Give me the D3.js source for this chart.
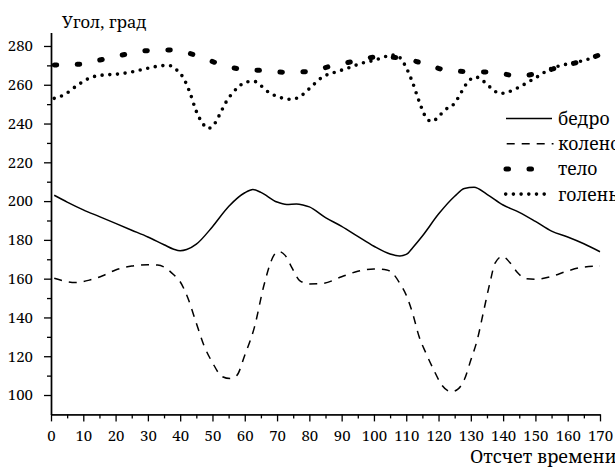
<!DOCTYPE html>
<html>
<head>
<meta charset="utf-8">
<script src="https://cdn.jsdelivr.net/npm/d3@7"></script>
<style>
  body { margin: 0; background: #fff; }
  text { font-family: "Noto Serif", "DejaVu Serif", serif; fill: #000; }
</style>
</head>
<body>
<svg id="chart" width="615" height="468"></svg>
<script>
// Joint angles over time (degrees)
const hipT  = [1,5,10,15,20,25,30,35,38,40,42,45,50,55,60,62.5,65,70,73,76,78,80,85,90,95,100,105,108,110,112,115,120,125,128,131,135,140,145,150,155,160,165,170];
const hipV  = [203,199.5,195.5,192,188.5,185,181.5,177.5,175.2,174.4,175,177.8,186.8,197.2,204.3,206,204.5,199.5,198.3,198.5,198,197,191.5,187,181.8,176.7,172.7,171.7,172.5,176,182,193.3,202.5,206.5,207.1,203.5,198,194.2,189.5,184.5,181.5,178,173.9];

const kneeT = [1,4,7.5,12,16,20,25,30,33,35,38,40,42.5,45,47.5,50,53,55.5,57.5,60,63,66,69,70.5,72.5,74.5,77,80,84,90,95,100,104,106,108,110,112,114,116,118.5,121,124,126,128,130,132,134,136,137.5,139.8,142,144.5,147,150,155,160,165,170];
const kneeV = [160.2,158.8,158,159.3,161.5,164.5,166.5,167.2,167,166,162,158.4,149.5,137,125,116.7,109.5,108.5,110,120.5,135,157,172,174,172,166,159,157.3,157.5,161,163.8,165,164.5,162.4,157.6,151.5,142,130,122,113,105.2,101.7,103,108,118,128.5,143.5,158.5,168,171.5,168.5,163,160,159.7,161.2,164,166,166.5];

const bodyT = [1,9,16,23,30,37,44.5,51.5,59,66,73,80,87.5,94.5,101.5,108.5,116,123,130.5,137.5,144.5,151,158,164,170];
const bodyV = [270.2,270.6,273.1,275.7,277.6,277.9,275.4,271.1,268,267.3,266.4,266.9,270,272.3,274.5,273.7,270.7,267.3,266.7,266.4,264.5,266,269.5,272,275.5];

const shinT = [1,4,8,12,16,20,25,30,35,37,39,41,43,45,47,48.5,50,52,54,56,58,60.5,63,65,67.5,70,74.5,77,80,84,88,92,96,100,103,105.5,108,110,112,114,116,118,120,122,125,127,129,131.5,134,136.5,139,141,144,148,151,155,158,162,166,170];
const shinV = [253,254.8,259.5,263.5,265,265.4,266.6,268.5,269.9,269.8,267.5,263.5,256,246.3,240,237.5,238.5,243.9,250.5,255.3,258.8,261.5,261.7,259.5,256,254,252.5,253.8,258,263.9,266.5,268.6,271,272.6,274.2,275.4,274,268.8,261,251.4,243.5,241,243.6,247,250.5,256,261.3,264,261.7,258,255.5,256,258,261.6,264.5,268.5,270,271.4,273,276];

const xMajor = d3.range(0, 171, 10);
const xMinor = d3.range(5, 170, 10);
const yMajor = d3.range(100, 281, 20);
const yMinor = d3.range(110, 281, 20);

const series = [
  { name: "бедро",  t: hipT,  v: hipV,  width: 1.5, dash: null,        cap: "butt"  },
  { name: "колено", t: kneeT, v: kneeV, width: 1.5, dash: "8,7",       cap: "butt"  },
  { name: "тело",   t: bodyT, v: bodyV, width: 5,   dash: "2.5,20.5",  cap: "round" },
  { name: "голень", t: shinT, v: shinV, width: 3.6, dash: "0,7.7",     cap: "round" }
];

const FONT = '"Noto Serif", "DejaVu Serif", serif';
const svg = d3.select("#chart");
const x = d3.scaleLinear().domain([0, 170]).range([51, 600]);
const y = d3.scaleLinear().domain([90, 287]).range([414.4, 32.4]);

// Axes
function styleAxis(g) {
  g.attr("font-family", FONT);
  g.selectAll("path.domain").attr("stroke", "#000").attr("stroke-width", 1.4);
  g.selectAll(".tick line").attr("stroke", "#000").attr("stroke-width", 1.3);
  g.selectAll(".tick text").style("font-family", FONT).style("font-size", "15px").attr("fill", "#000");
}

svg.append("g").attr("transform", "translate(0,414.4)")
  .call(d3.axisBottom(x).tickValues(xMinor).tickSize(4).tickSizeOuter(0).tickFormat(""))
  .call(styleAxis);
svg.append("g").attr("transform", "translate(0,414.4)")
  .call(d3.axisBottom(x).tickValues(xMajor).tickSize(7).tickSizeOuter(0).tickPadding(9).tickFormat(d3.format("d")))
  .call(styleAxis);

svg.append("g").attr("transform", "translate(51,0)")
  .call(d3.axisLeft(y).tickValues(yMinor).tickSize(4).tickSizeOuter(0).tickFormat(""))
  .call(styleAxis);
svg.append("g").attr("transform", "translate(51,0)")
  .call(d3.axisLeft(y).tickValues(yMajor).tickSize(7).tickSizeOuter(0).tickPadding(11).tickFormat(d3.format("d")))
  .call(styleAxis);

// Axis titles
svg.append("text").attr("x", 62).attr("y", 28).style("font-size", "16.5px").text("Угол, град");
svg.append("text").attr("x", 470).attr("y", 463).style("font-size", "18px").text("Отсчет времени");

// Curves
const line = d3.line().x(d => x(d[0])).y(d => y(d[1])).curve(d3.curveMonotoneX);
series.forEach(s => {
  const pts = s.t.map((t, i) => [t, s.v[i]]);
  svg.append("path")
    .datum(pts)
    .attr("d", line)
    .attr("fill", "none")
    .attr("stroke", "#000")
    .attr("stroke-width", s.width)
    .attr("stroke-linecap", s.cap)
    .attr("stroke-linejoin", "round")
    .attr("stroke-dasharray", s.dash);
});

// Legend
const legendRows = [
  { x0: 506, x1: 552 },
  { x0: 506.7, x1: 553.5 },
  { x0: 506, x1: 534 },
  { x0: 505.7, x1: 547.5 }
];
series.forEach((s, i) => {
  const yy = 118.5 + i * 25.2;
  svg.append("path")
    .attr("d", `M${legendRows[i].x0},${yy}H${legendRows[i].x1}`)
    .attr("fill", "none")
    .attr("stroke", "#000")
    .attr("stroke-width", s.width)
    .attr("stroke-linecap", s.cap)
    .attr("stroke-dasharray", s.dash);
  svg.append("text")
    .attr("x", 558)
    .attr("y", yy + 6.5)
    .style("font-size", "17.5px")
    .text(s.name);
});
</script>
</body>
</html>
